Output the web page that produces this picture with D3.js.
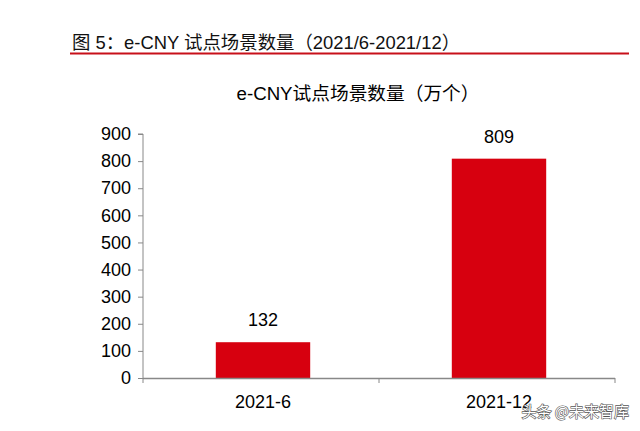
<!DOCTYPE html>
<html><head><meta charset="utf-8">
<script src="https://cdn.jsdelivr.net/npm/d3@7"></script>
<style>body{margin:0;background:#fff}svg{display:block}text{font-family:"Liberation Sans",Arial,"Noto Sans CJK SC",sans-serif}</style>
</head><body>
<script>
const categories = ["2021-6", "2021-12"];
const values = [132, 809];
const yTicks = [0,100,200,300,400,500,600,700,800,900];
const figTitle = "图 5：e-CNY 试点场景数量（2021/6-2021/12）";
const chartTitle = "e-CNY试点场景数量（万个）";
const watermark = "头条 @未来智库";

(function(){
const W=640,H=431;
const svg=d3.select("body").append("svg").attr("width",W).attr("height",H);
const pL=143,pR=615,pT=134,pB=378;

svg.append("text").attr("x",72).attr("y",49).attr("font-size",18.4).attr("fill","#111")
  .style("font-family","'Liberation Sans','Noto Sans CJK SC',sans-serif").text(figTitle);
svg.append("line").attr("x1",70).attr("x2",629).attr("y1",53.5).attr("y2",53.5)
  .attr("stroke","#c8101a").attr("stroke-width",2);

svg.append("text").attr("x",358).attr("y",100).attr("text-anchor","middle").attr("font-size",18.7)
  .attr("fill","#000").text(chartTitle);

const x=d3.scaleBand().domain(categories).range([pL,pR]).paddingInner(0.6).paddingOuter(0.3);
const y=d3.scaleLinear().domain([0,900]).range([pB,pT]);

svg.selectAll("rect.bar").data(values).join("rect").attr("class","bar")
  .attr("x",(d,i)=>x(categories[i])+2).attr("width",x.bandwidth())
  .attr("y",d=>y(d)).attr("height",d=>pB-y(d)).attr("fill","#d7000f");

svg.selectAll("text.lbl").data(values).join("text").attr("class","lbl")
  .attr("x",(d,i)=>x(categories[i])+2+x.bandwidth()/2).attr("y",d=>y(d)-16)
  .attr("text-anchor","middle").attr("font-size",18).attr("fill","#000").text(d=>d);

const yAxis=svg.append("g").attr("transform",`translate(${pL},0)`)
  .call(d3.axisLeft(y).tickValues(yTicks).tickSize(5).tickPadding(7));
yAxis.select(".domain").attr("stroke","#888").attr("d",`M-5,${pT}H0V${pB}`);
yAxis.selectAll(".tick line").attr("stroke","#888");
yAxis.selectAll(".tick text").attr("font-size",18).attr("fill","#000")
  .style("font-family","'Liberation Sans',Arial,sans-serif");

const xg=svg.append("g");
xg.append("line").attr("x1",pL).attr("x2",pR).attr("y1",pB+0.5).attr("y2",pB+0.5).attr("stroke","#888").attr("stroke-width",1.5);
const bounds=[pL, (x(categories[0])+x.bandwidth()+x(categories[1]))/2, pR];
xg.selectAll("line.t").data(bounds).join("line").attr("class","t")
  .attr("x1",d=>d).attr("x2",d=>d).attr("y1",pB).attr("y2",pB+5).attr("stroke","#888");
xg.selectAll("text").data(categories).join("text")
  .attr("x",d=>x(d)+2+x.bandwidth()/2).attr("y",pB+30).attr("text-anchor","middle")
  .attr("font-size",18).attr("fill","#000").text(d=>d);

svg.append("text").attr("x",629).attr("y",417).attr("text-anchor","end").attr("font-size",15)
  .attr("fill","#fff").attr("stroke","#555").attr("stroke-width",1.2).style("paint-order","stroke")
  .style("font-family","'Noto Sans CJK SC',sans-serif").text(watermark);
})();
</script>
</body></html>
